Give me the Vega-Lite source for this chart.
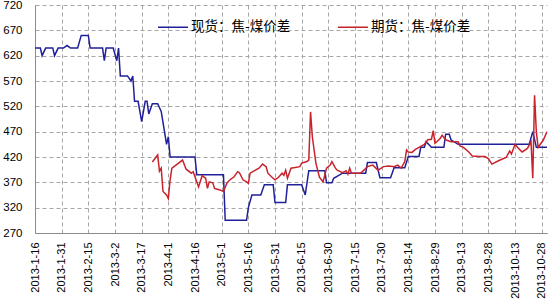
{
  "$schema": "https://vega.github.io/schema/vega-lite/v6.json",
  "width": 512,
  "height": 228,
  "autosize": {"type": "none"},
  "padding": {"left": 35, "top": 5, "right": 3, "bottom": 67},
  "background": "white",
  "config": {
    "view": {"stroke": null},
    "axis": {
      "domainColor": "#8c8c8c",
      "gridColor": "#a6a6a6",
      "gridDash": [4, 3],
      "gridWidth": 1,
      "labelFont": "Liberation Sans",
      "labelColor": "#000000",
      "ticks": false,
      "title": null
    },
    "legend": {"labelFont": "Noto Sans CJK SC"}
  },
  "data": {
    "values": [
      {"date": "2013-01-16", "series": "现货：焦-煤价差", "value": 635},
      {"date": "2013-01-19", "series": "现货：焦-煤价差", "value": 635},
      {"date": "2013-01-20", "series": "现货：焦-煤价差", "value": 620},
      {"date": "2013-01-22", "series": "现货：焦-煤价差", "value": 635},
      {"date": "2013-01-26", "series": "现货：焦-煤价差", "value": 635},
      {"date": "2013-01-27", "series": "现货：焦-煤价差", "value": 620},
      {"date": "2013-01-29", "series": "现货：焦-煤价差", "value": 635},
      {"date": "2013-02-01", "series": "现货：焦-煤价差", "value": 635},
      {"date": "2013-02-03", "series": "现货：焦-煤价差", "value": 640},
      {"date": "2013-02-05", "series": "现货：焦-煤价差", "value": 635},
      {"date": "2013-02-09", "series": "现货：焦-煤价差", "value": 635},
      {"date": "2013-02-11", "series": "现货：焦-煤价差", "value": 660},
      {"date": "2013-02-15", "series": "现货：焦-煤价差", "value": 660},
      {"date": "2013-02-16", "series": "现货：焦-煤价差", "value": 635},
      {"date": "2013-02-23", "series": "现货：焦-煤价差", "value": 635},
      {"date": "2013-02-24", "series": "现货：焦-煤价差", "value": 610},
      {"date": "2013-02-25", "series": "现货：焦-煤价差", "value": 635},
      {"date": "2013-03-01", "series": "现货：焦-煤价差", "value": 635},
      {"date": "2013-03-03", "series": "现货：焦-煤价差", "value": 610},
      {"date": "2013-03-04", "series": "现货：焦-煤价差", "value": 635},
      {"date": "2013-03-05", "series": "现货：焦-煤价差", "value": 580},
      {"date": "2013-03-09", "series": "现货：焦-煤价差", "value": 580},
      {"date": "2013-03-11", "series": "现货：焦-煤价差", "value": 570},
      {"date": "2013-03-12", "series": "现货：焦-煤价差", "value": 580},
      {"date": "2013-03-13", "series": "现货：焦-煤价差", "value": 530},
      {"date": "2013-03-15", "series": "现货：焦-煤价差", "value": 530},
      {"date": "2013-03-17", "series": "现货：焦-煤价差", "value": 490},
      {"date": "2013-03-19", "series": "现货：焦-煤价差", "value": 530},
      {"date": "2013-03-20", "series": "现货：焦-煤价差", "value": 530},
      {"date": "2013-03-21", "series": "现货：焦-煤价差", "value": 505},
      {"date": "2013-03-23", "series": "现货：焦-煤价差", "value": 525},
      {"date": "2013-03-26", "series": "现货：焦-煤价差", "value": 525},
      {"date": "2013-03-28", "series": "现货：焦-煤价差", "value": 510},
      {"date": "2013-03-31", "series": "现货：焦-煤价差", "value": 445},
      {"date": "2013-04-01", "series": "现货：焦-煤价差", "value": 460},
      {"date": "2013-04-02", "series": "现货：焦-煤价差", "value": 420},
      {"date": "2013-04-16", "series": "现货：焦-煤价差", "value": 420},
      {"date": "2013-04-17", "series": "现货：焦-煤价差", "value": 385},
      {"date": "2013-05-02", "series": "现货：焦-煤价差", "value": 385},
      {"date": "2013-05-03", "series": "现货：焦-煤价差", "value": 295},
      {"date": "2013-05-15", "series": "现货：焦-煤价差", "value": 295},
      {"date": "2013-05-16", "series": "现货：焦-煤价差", "value": 320},
      {"date": "2013-05-18", "series": "现货：焦-煤价差", "value": 345},
      {"date": "2013-05-23", "series": "现货：焦-煤价差", "value": 345},
      {"date": "2013-05-25", "series": "现货：焦-煤价差", "value": 365},
      {"date": "2013-05-30", "series": "现货：焦-煤价差", "value": 365},
      {"date": "2013-05-31", "series": "现货：焦-煤价差", "value": 330},
      {"date": "2013-06-06", "series": "现货：焦-煤价差", "value": 330},
      {"date": "2013-06-07", "series": "现货：焦-煤价差", "value": 365},
      {"date": "2013-06-15", "series": "现货：焦-煤价差", "value": 365},
      {"date": "2013-06-17", "series": "现货：焦-煤价差", "value": 345},
      {"date": "2013-06-19", "series": "现货：焦-煤价差", "value": 393},
      {"date": "2013-06-28", "series": "现货：焦-煤价差", "value": 393},
      {"date": "2013-06-29", "series": "现货：焦-煤价差", "value": 369},
      {"date": "2013-07-02", "series": "现货：焦-煤价差", "value": 369},
      {"date": "2013-07-03", "series": "现货：焦-煤价差", "value": 378},
      {"date": "2013-07-08", "series": "现货：焦-煤价差", "value": 388},
      {"date": "2013-07-21", "series": "现货：焦-煤价差", "value": 388},
      {"date": "2013-07-22", "series": "现货：焦-煤价差", "value": 409},
      {"date": "2013-07-27", "series": "现货：焦-煤价差", "value": 409},
      {"date": "2013-07-29", "series": "现货：焦-煤价差", "value": 379},
      {"date": "2013-08-04", "series": "现货：焦-煤价差", "value": 379},
      {"date": "2013-08-06", "series": "现货：焦-煤价差", "value": 399},
      {"date": "2013-08-12", "series": "现货：焦-煤价差", "value": 399},
      {"date": "2013-08-14", "series": "现货：焦-煤价差", "value": 421},
      {"date": "2013-08-20", "series": "现货：焦-煤价差", "value": 421},
      {"date": "2013-08-21", "series": "现货：焦-煤价差", "value": 439},
      {"date": "2013-08-23", "series": "现货：焦-煤价差", "value": 439},
      {"date": "2013-08-24", "series": "现货：焦-煤价差", "value": 450},
      {"date": "2013-08-27", "series": "现货：焦-煤价差", "value": 439},
      {"date": "2013-09-03", "series": "现货：焦-煤价差", "value": 439},
      {"date": "2013-09-04", "series": "现货：焦-煤价差", "value": 465},
      {"date": "2013-09-06", "series": "现货：焦-煤价差", "value": 465},
      {"date": "2013-09-07", "series": "现货：焦-煤价差", "value": 454},
      {"date": "2013-09-11", "series": "现货：焦-煤价差", "value": 445},
      {"date": "2013-10-21", "series": "现货：焦-煤价差", "value": 445},
      {"date": "2013-10-23", "series": "现货：焦-煤价差", "value": 470},
      {"date": "2013-10-25", "series": "现货：焦-煤价差", "value": 439},
      {"date": "2013-10-31", "series": "现货：焦-煤价差", "value": 439},
      {"date": "2013-03-23", "series": "期货：焦-煤价差", "value": 410},
      {"date": "2013-03-26", "series": "期货：焦-煤价差", "value": 424},
      {"date": "2013-03-27", "series": "期货：焦-煤价差", "value": 392},
      {"date": "2013-03-28", "series": "期货：焦-煤价差", "value": 398},
      {"date": "2013-03-29", "series": "期货：焦-煤价差", "value": 352},
      {"date": "2013-03-31", "series": "期货：焦-煤价差", "value": 345},
      {"date": "2013-04-01", "series": "期货：焦-煤价差", "value": 338},
      {"date": "2013-04-02", "series": "期货：焦-煤价差", "value": 375},
      {"date": "2013-04-03", "series": "期货：焦-煤价差", "value": 398},
      {"date": "2013-04-06", "series": "期货：焦-煤价差", "value": 406},
      {"date": "2013-04-09", "series": "期货：焦-煤价差", "value": 414},
      {"date": "2013-04-11", "series": "期货：焦-煤价差", "value": 396},
      {"date": "2013-04-14", "series": "期货：焦-煤价差", "value": 388},
      {"date": "2013-04-15", "series": "期货：焦-煤价差", "value": 391},
      {"date": "2013-04-18", "series": "期货：焦-煤价差", "value": 361},
      {"date": "2013-04-20", "series": "期货：焦-煤价差", "value": 383},
      {"date": "2013-04-22", "series": "期货：焦-煤价差", "value": 378},
      {"date": "2013-04-23", "series": "期货：焦-煤价差", "value": 358},
      {"date": "2013-04-24", "series": "期货：焦-煤价差", "value": 371},
      {"date": "2013-04-26", "series": "期货：焦-煤价差", "value": 369},
      {"date": "2013-04-27", "series": "期货：焦-煤价差", "value": 358},
      {"date": "2013-04-30", "series": "期货：焦-煤价差", "value": 355},
      {"date": "2013-05-02", "series": "期货：焦-煤价差", "value": 352},
      {"date": "2013-05-04", "series": "期货：焦-煤价差", "value": 369},
      {"date": "2013-05-06", "series": "期货：焦-煤价差", "value": 376},
      {"date": "2013-05-08", "series": "期货：焦-煤价差", "value": 381},
      {"date": "2013-05-10", "series": "期货：焦-煤价差", "value": 391},
      {"date": "2013-05-11", "series": "期货：焦-煤价差", "value": 389},
      {"date": "2013-05-13", "series": "期货：焦-煤价差", "value": 375},
      {"date": "2013-05-15", "series": "期货：焦-煤价差", "value": 371},
      {"date": "2013-05-16", "series": "期货：焦-煤价差", "value": 368},
      {"date": "2013-05-17", "series": "期货：焦-煤价差", "value": 388},
      {"date": "2013-05-20", "series": "期货：焦-煤价差", "value": 394},
      {"date": "2013-05-22", "series": "期货：焦-煤价差", "value": 398},
      {"date": "2013-05-24", "series": "期货：焦-煤价差", "value": 406},
      {"date": "2013-05-26", "series": "期货：焦-煤价差", "value": 401},
      {"date": "2013-05-27", "series": "期货：焦-煤价差", "value": 388},
      {"date": "2013-05-29", "series": "期货：焦-煤价差", "value": 381},
      {"date": "2013-05-31", "series": "期货：焦-煤价差", "value": 375},
      {"date": "2013-06-02", "series": "期货：焦-煤价差", "value": 380},
      {"date": "2013-06-04", "series": "期货：焦-煤价差", "value": 388},
      {"date": "2013-06-05", "series": "期货：焦-煤价差", "value": 384},
      {"date": "2013-06-06", "series": "期货：焦-煤价差", "value": 394},
      {"date": "2013-06-07", "series": "期货：焦-煤价差", "value": 378},
      {"date": "2013-06-09", "series": "期货：焦-煤价差", "value": 398},
      {"date": "2013-06-14", "series": "期货：焦-煤价差", "value": 401},
      {"date": "2013-06-15", "series": "期货：焦-煤价差", "value": 408},
      {"date": "2013-06-18", "series": "期货：焦-煤价差", "value": 411},
      {"date": "2013-06-19", "series": "期货：焦-煤价差", "value": 414},
      {"date": "2013-06-20", "series": "期货：焦-煤价差", "value": 509},
      {"date": "2013-06-21", "series": "期货：焦-煤价差", "value": 460},
      {"date": "2013-06-23", "series": "期货：焦-煤价差", "value": 408},
      {"date": "2013-06-25", "series": "期货：焦-煤价差", "value": 380},
      {"date": "2013-06-27", "series": "期货：焦-煤价差", "value": 371},
      {"date": "2013-06-28", "series": "期货：焦-煤价差", "value": 384},
      {"date": "2013-06-29", "series": "期货：焦-煤价差", "value": 398},
      {"date": "2013-07-01", "series": "期货：焦-煤价差", "value": 404},
      {"date": "2013-07-02", "series": "期货：焦-煤价差", "value": 411},
      {"date": "2013-07-04", "series": "期货：焦-煤价差", "value": 398},
      {"date": "2013-07-05", "series": "期货：焦-煤价差", "value": 394},
      {"date": "2013-07-08", "series": "期货：焦-煤价差", "value": 389},
      {"date": "2013-07-10", "series": "期货：焦-煤价差", "value": 393},
      {"date": "2013-07-11", "series": "期货：焦-煤价差", "value": 386},
      {"date": "2013-07-12", "series": "期货：焦-煤价差", "value": 398},
      {"date": "2013-07-13", "series": "期货：焦-煤价差", "value": 388},
      {"date": "2013-07-18", "series": "期货：焦-煤价差", "value": 388},
      {"date": "2013-07-20", "series": "期货：焦-煤价差", "value": 394},
      {"date": "2013-07-22", "series": "期货：焦-煤价差", "value": 401},
      {"date": "2013-07-25", "series": "期货：焦-煤价差", "value": 404},
      {"date": "2013-07-28", "series": "期货：焦-煤价差", "value": 394},
      {"date": "2013-07-31", "series": "期货：焦-煤价差", "value": 401},
      {"date": "2013-08-03", "series": "期货：焦-煤价差", "value": 402},
      {"date": "2013-08-06", "series": "期货：焦-煤价差", "value": 401},
      {"date": "2013-08-08", "series": "期货：焦-煤价差", "value": 404},
      {"date": "2013-08-10", "series": "期货：焦-煤价差", "value": 398},
      {"date": "2013-08-12", "series": "期货：焦-煤价差", "value": 411},
      {"date": "2013-08-13", "series": "期货：焦-煤价差", "value": 434},
      {"date": "2013-08-14", "series": "期货：焦-煤价差", "value": 430},
      {"date": "2013-08-16", "series": "期货：焦-煤价差", "value": 429},
      {"date": "2013-08-18", "series": "期货：焦-煤价差", "value": 435},
      {"date": "2013-08-20", "series": "期货：焦-煤价差", "value": 439},
      {"date": "2013-08-23", "series": "期货：焦-煤价差", "value": 445},
      {"date": "2013-08-25", "series": "期货：焦-煤价差", "value": 454},
      {"date": "2013-08-27", "series": "期货：焦-煤价差", "value": 455},
      {"date": "2013-08-28", "series": "期货：焦-煤价差", "value": 472},
      {"date": "2013-08-29", "series": "期货：焦-煤价差", "value": 447},
      {"date": "2013-08-30", "series": "期货：焦-煤价差", "value": 450},
      {"date": "2013-09-01", "series": "期货：焦-煤价差", "value": 457},
      {"date": "2013-09-02", "series": "期货：焦-煤价差", "value": 463},
      {"date": "2013-09-04", "series": "期货：焦-煤价差", "value": 454},
      {"date": "2013-09-07", "series": "期货：焦-煤价差", "value": 450},
      {"date": "2013-09-11", "series": "期货：焦-煤价差", "value": 450},
      {"date": "2013-09-12", "series": "期货：焦-煤价差", "value": 442},
      {"date": "2013-09-14", "series": "期货：焦-煤价差", "value": 439},
      {"date": "2013-09-17", "series": "期货：焦-煤价差", "value": 430},
      {"date": "2013-09-19", "series": "期货：焦-煤价差", "value": 422},
      {"date": "2013-09-23", "series": "期货：焦-煤价差", "value": 421},
      {"date": "2013-09-26", "series": "期货：焦-煤价差", "value": 421},
      {"date": "2013-09-28", "series": "期货：焦-煤价差", "value": 417},
      {"date": "2013-09-30", "series": "期货：焦-煤价差", "value": 406},
      {"date": "2013-10-04", "series": "期货：焦-煤价差", "value": 413},
      {"date": "2013-10-08", "series": "期货：焦-煤价差", "value": 419},
      {"date": "2013-10-10", "series": "期货：焦-煤价差", "value": 432},
      {"date": "2013-10-11", "series": "期货：焦-煤价差", "value": 426},
      {"date": "2013-10-13", "series": "期货：焦-煤价差", "value": 445},
      {"date": "2013-10-15", "series": "期货：焦-煤价差", "value": 437},
      {"date": "2013-10-17", "series": "期货：焦-煤价差", "value": 430},
      {"date": "2013-10-20", "series": "期货：焦-煤价差", "value": 437},
      {"date": "2013-10-22", "series": "期货：焦-煤价差", "value": 450},
      {"date": "2013-10-23", "series": "期货：焦-煤价差", "value": 378},
      {"date": "2013-10-24", "series": "期货：焦-煤价差", "value": 542},
      {"date": "2013-10-25", "series": "期货：焦-煤价差", "value": 470},
      {"date": "2013-10-26", "series": "期货：焦-煤价差", "value": 439},
      {"date": "2013-10-29", "series": "期货：焦-煤价差", "value": 454},
      {"date": "2013-10-31", "series": "期货：焦-煤价差", "value": 470}
    ]
  },
  "mark": {"type": "line", "strokeWidth": 1.5, "clip": true},
  "encoding": {
    "x": {
      "field": "date",
      "type": "temporal",
      "scale": {
        "type": "utc",
        "domain": [
          {"year": 2013, "month": 1, "date": 16, "utc": true},
          {"year": 2013, "month": 10, "date": 31, "utc": true}
        ]
      },
      "axis": {
        "values": [
          {"year": 2013, "month": 1, "date": 16, "utc": true},
          {"year": 2013, "month": 1, "date": 31, "utc": true},
          {"year": 2013, "month": 2, "date": 15, "utc": true},
          {"year": 2013, "month": 3, "date": 2, "utc": true},
          {"year": 2013, "month": 3, "date": 17, "utc": true},
          {"year": 2013, "month": 4, "date": 1, "utc": true},
          {"year": 2013, "month": 4, "date": 16, "utc": true},
          {"year": 2013, "month": 5, "date": 1, "utc": true},
          {"year": 2013, "month": 5, "date": 16, "utc": true},
          {"year": 2013, "month": 5, "date": 31, "utc": true},
          {"year": 2013, "month": 6, "date": 15, "utc": true},
          {"year": 2013, "month": 6, "date": 30, "utc": true},
          {"year": 2013, "month": 7, "date": 15, "utc": true},
          {"year": 2013, "month": 7, "date": 30, "utc": true},
          {"year": 2013, "month": 8, "date": 14, "utc": true},
          {"year": 2013, "month": 8, "date": 29, "utc": true},
          {"year": 2013, "month": 9, "date": 13, "utc": true},
          {"year": 2013, "month": 9, "date": 28, "utc": true},
          {"year": 2013, "month": 10, "date": 13, "utc": true},
          {"year": 2013, "month": 10, "date": 28, "utc": true}
        ],
        "labelExpr": "utcFormat(datum.value, '%Y-%-m-%-d')",
        "labelAngle": -90,
        "labelFontSize": 11,
        "labelPadding": 9,
        "labelOverlap": false,
        "labelFlush": false,
        "grid": true
      }
    },
    "y": {
      "field": "value",
      "type": "quantitative",
      "scale": {"domain": [270, 720], "zero": false, "nice": false},
      "axis": {
        "values": [270, 320, 370, 420, 470, 520, 570, 620, 670, 720],
        "labelFontSize": 11.5,
        "labelPadding": 13,
        "labelFlush": false,
        "grid": true
      }
    },
    "color": {
      "field": "series",
      "type": "nominal",
      "scale": {
        "domain": ["现货：焦-煤价差", "期货：焦-煤价差"],
        "range": ["#20209a", "#c8232c"]
      },
      "legend": {
        "title": null,
        "orient": "none",
        "direction": "horizontal",
        "legendX": 122,
        "legendY": 6,
        "symbolType": "stroke",
        "symbolSize": 900,
        "symbolStrokeWidth": 1.5,
        "labelFontSize": 13.5,
        "labelOffset": 2,
        "columnPadding": 44,
        "labelLimit": 200
      }
    }
  }
}
